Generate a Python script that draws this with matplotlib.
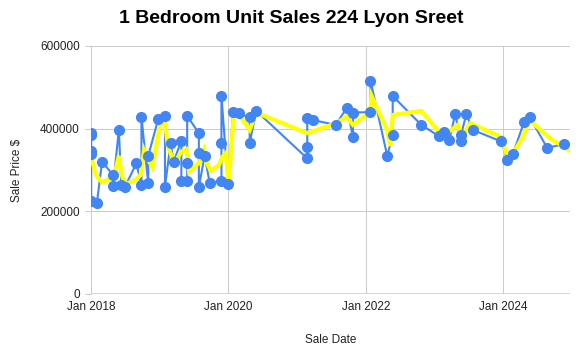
import pandas as pd
import matplotlib.pyplot as plt
import matplotlib.dates as mdates
from matplotlib.ticker import FixedLocator, FuncFormatter

plt.rcParams['font.family'] = ['Liberation Sans', 'DejaVu Sans']

# Individual unit sales (several sales can share one date)
sale_dates = [
    "2018-01-02", "2018-01-02", "2018-01-02", "2018-01-02", "2018-01-02",
    "2018-02-01", "2018-03-01", "2018-04-28", "2018-04-28", "2018-05-29",
    "2018-06-11", "2018-06-29", "2018-08-30", "2018-09-26", "2018-09-26",
    "2018-11-01", "2018-11-01", "2018-12-24", "2019-01-29", "2019-01-29",
    "2019-02-28", "2019-03-16", "2019-04-26", "2019-04-26", "2019-05-27",
    "2019-05-27", "2019-05-27", "2019-07-28", "2019-07-28", "2019-07-28",
    "2019-08-28", "2019-09-24", "2019-11-25", "2019-11-25", "2019-11-25",
    "2019-12-30", "2020-01-26", "2020-02-27", "2020-04-23", "2020-04-23",
    "2020-05-28", "2021-02-23", "2021-02-23", "2021-02-23", "2021-03-25",
    "2021-07-24", "2021-09-22", "2021-10-24", "2021-10-24", "2022-01-25",
    "2022-01-25", "2022-04-24", "2022-05-23", "2022-05-23", "2022-10-22",
    "2023-01-23", "2023-02-20", "2023-03-20", "2023-04-20", "2023-05-21",
    "2023-05-21", "2023-06-18", "2023-07-22", "2023-12-21", "2024-01-22",
    "2024-02-21", "2024-04-19", "2024-05-19", "2024-08-20", "2024-11-19",
]
sale_prices = [
    390000, 385000, 345000, 338000, 224000,
    220000, 320000, 288000, 261000, 397000,
    264000, 258000, 316000, 264000, 429000,
    268000, 334000, 423000, 431000, 260000,
    365000, 320000, 371000, 274000, 273000,
    318000, 431000, 389000, 342000, 260000,
    334000, 268000, 273000, 365000, 479000,
    266000, 440000, 437000, 427000, 365000,
    443000, 328000, 356000, 425000, 421000,
    409000, 451000, 379000, 439000, 440000,
    516000, 334000, 385000, 479000, 409000,
    382000, 393000, 373000, 435000, 370000,
    385000, 435000, 397000, 369000, 324000,
    339000, 415000, 429000, 354000, 362000,
]

# Smoothed price trend
trend_dates = [
    "2018-01-03", "2018-01-27", "2018-03-02", "2018-04-15", "2018-05-03",
    "2018-05-29", "2018-06-16", "2018-07-04", "2018-08-26", "2018-09-22",
    "2018-10-10", "2018-11-06", "2018-11-24", "2019-01-02", "2019-01-28",
    "2019-02-15", "2019-03-20", "2019-04-25", "2019-05-23", "2019-06-06",
    "2019-07-27", "2019-08-24", "2019-09-05", "2019-09-29", "2019-11-12",
    "2019-11-30", "2019-12-17", "2020-01-03", "2020-01-30", "2020-02-28",
    "2020-04-23", "2020-05-28", "2021-02-23", "2021-07-27", "2021-09-20",
    "2021-10-24", "2022-01-25", "2022-01-30", "2022-04-23", "2022-05-11",
    "2022-05-23", "2022-10-22", "2023-01-27", "2023-03-18", "2023-05-03",
    "2023-05-26", "2023-07-10", "2023-12-20", "2024-01-15", "2024-02-21",
    "2024-04-14", "2024-05-19", "2024-09-04", "2024-12-18",
]
trend_prices = [
    330000, 288000, 270000, 280000, 284000,
    334000, 284000, 266000, 276000, 288000,
    348000, 320000, 306000, 409000, 415000,
    356000, 316000, 344000, 350000, 296000,
    316000, 348000, 320000, 298000, 312000,
    332000, 340000, 270000, 437000, 433000,
    397000, 439000, 389000, 413000, 429000,
    409000, 441000, 480000, 397000, 358000,
    433000, 443000, 391000, 393000, 409000,
    383000, 413000, 380000, 342000, 340000,
    380000, 421000, 377000, 347000,
]

sales = pd.DataFrame({"date": pd.to_datetime(sale_dates), "price": sale_prices})
trend = pd.DataFrame({"date": pd.to_datetime(trend_dates), "price": trend_prices})

fig = plt.figure(figsize=(5.86, 3.5), dpi=100)
ax = fig.add_axes([0.1553, 0.16, 0.8174, 0.7086])

blue = "#4285F4"
ax.plot(sales["date"], sales["price"], color=blue, lw=1.5, zorder=2)
ax.plot(trend["date"], trend["price"], color="#FFFF00", lw=3, zorder=3,
        solid_joinstyle="miter")
ax.plot(sales["date"], sales["price"], ls="none", marker="o", ms=7,
        color=blue, zorder=4)

ax.set_xlim(pd.Timestamp("2018-01-01"), pd.Timestamp("2024-12-20"))
ax.set_ylim(0, 600000)

ax.yaxis.set_major_locator(FixedLocator([0, 200000, 400000, 600000]))
ax.yaxis.set_major_formatter(FuncFormatter(lambda v, p: f"{int(v)}"))
ax.xaxis.set_major_locator(mdates.YearLocator(2))
ax.xaxis.set_major_formatter(mdates.DateFormatter("%b %Y"))

ax.grid(True, color="#cccccc", lw=0.75, zorder=0)
for s in ax.spines.values():
    s.set_visible(False)
ax.axhline(0, color="#333333", lw=1, zorder=1)

ax.tick_params(axis="y", length=4, color="#cccccc", labelsize=8.5,
               labelcolor="#222222", pad=4)
ax.tick_params(axis="x", length=0, labelsize=8.5, labelcolor="#222222", pad=5)

ax.set_xlabel("Sale Date", fontsize=8.5, color="#222222", labelpad=15)
ax.set_ylabel("Sale Price $", fontsize=8.5, color="#222222", labelpad=12)

fig.text(0.497, 0.948, "1 Bedroom Unit Sales 224 Lyon Sreet", ha="center",
         va="center", fontsize=14, fontweight="bold", color="#000000")

fig.savefig("out.png", dpi=100)
